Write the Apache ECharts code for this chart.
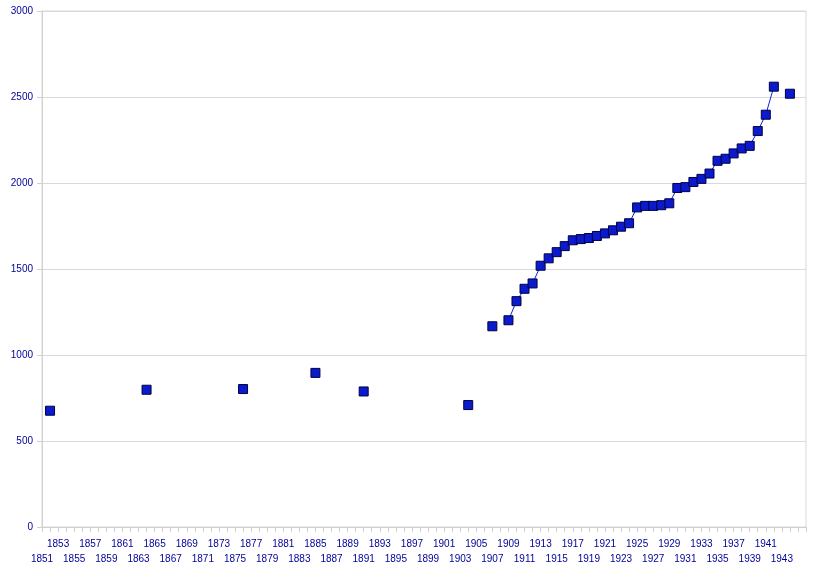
<!DOCTYPE html>
<html>
<head>
<meta charset="utf-8">
<script src="https://cdn.jsdelivr.net/npm/echarts@6/dist/echarts.min.js"></script>
<style>
html,body{margin:0;padding:0;background:#fff;}
#chart{width:828px;height:571px;}
</style>
</head>
<body>
<div id="chart"></div>
<script>
// Categories: years 1851..1946
var years = [];
for (var y = 1851; y <= 1946; y++) years.push(String(y));
var lastLabelYear = 1943;

// Observed values by year (missing years are gaps)
var obsYears = [1852, 1864, 1876, 1885, 1891, 1904, 1907, 1909, 1910, 1911, 1912, 1913, 1914, 1915, 1916, 1917, 1918, 1919, 1920, 1921, 1922, 1923, 1924, 1925, 1926, 1927, 1928, 1929, 1930, 1931, 1932, 1933, 1934, 1935, 1936, 1937, 1938, 1939, 1940, 1941, 1942, 1944];
var obsValues = [676, 798, 802, 896, 788, 709, 1167, 1202, 1313, 1385, 1416, 1519, 1562, 1598, 1633, 1667, 1674, 1680, 1692, 1707, 1725, 1746, 1766, 1858, 1867, 1867, 1871, 1882, 1971, 1976, 2006, 2024, 2055, 2129, 2141, 2172, 2201, 2216, 2302, 2397, 2560, 2519];

var yTicks = { min: 0, max: 3000, interval: 500 };

var seriesData = years.map(function (yr) {
  var i = obsYears.indexOf(Number(yr));
  return i >= 0 ? obsValues[i] : null;
});

var labelFont = {
  fontFamily: 'Liberation Sans, Arial, sans-serif',
  fontSize: 10,
  color: '#000099'
};

function labelled(index, rem) {
  return index % 4 === rem && Number(years[index]) <= lastLabelYear;
}

var chart = echarts.init(document.getElementById('chart'), null, { renderer: 'canvas' });
chart.setOption({
  animation: false,
  backgroundColor: '#ffffff',
  grid: { left: 42, right: 22, top: 11, bottom: 44, show: true, borderColor: '#d9d9d9', borderWidth: 1, backgroundColor: 'transparent', containLabel: false },
  xAxis: [{
    type: 'category',
    position: 'bottom',
    data: years,
    boundaryGap: false,
    axisLine: { lineStyle: { color: '#d0d0d0', width: 1 } },
    axisTick: { show: true, interval: 0, length: 5, lineStyle: { color: '#d0d0d0' } },
    axisLabel: Object.assign({
      interval: function (index) { return labelled(index, 2); },
      showMinLabel: true,
      showMaxLabel: true,
      hideOverlap: false,
      margin: 12
    }, labelFont),
    splitLine: { show: false }
  }, {
    type: 'category',
    position: 'bottom',
    offset: 0,
    data: years,
    boundaryGap: false,
    axisLine: { show: false },
    axisTick: { show: false },
    axisLabel: Object.assign({
      interval: function (index) { return labelled(index, 0); },
      showMinLabel: true,
      showMaxLabel: true,
      hideOverlap: false,
      margin: 27
    }, labelFont),
    splitLine: { show: false }
  }],
  yAxis: {
    type: 'value',
    min: yTicks.min,
    max: yTicks.max,
    interval: yTicks.interval,
    axisLine: { show: true, lineStyle: { color: '#d0d0d0', width: 1 } },
    axisTick: { show: true, length: 5, lineStyle: { color: '#d0d0d0' } },
    axisLabel: Object.assign({
      margin: 9,
      showMinLabel: true,
      formatter: function (v) { return String(v); }
    }, labelFont),
    splitLine: { show: true, lineStyle: { color: '#d9d9d9', width: 1 } }
  },
  series: [{
    type: 'line',
    xAxisIndex: 0,
    data: seriesData,
    connectNulls: false,
    symbol: 'rect',
    symbolSize: 9,
    showAllSymbol: true,
    lineStyle: { color: '#1020e0', width: 1 },
    itemStyle: { color: '#0a1acc', borderColor: '#000044', borderWidth: 1 },
    emphasis: { disabled: true }
  }]
});
</script>
</body>
</html>
